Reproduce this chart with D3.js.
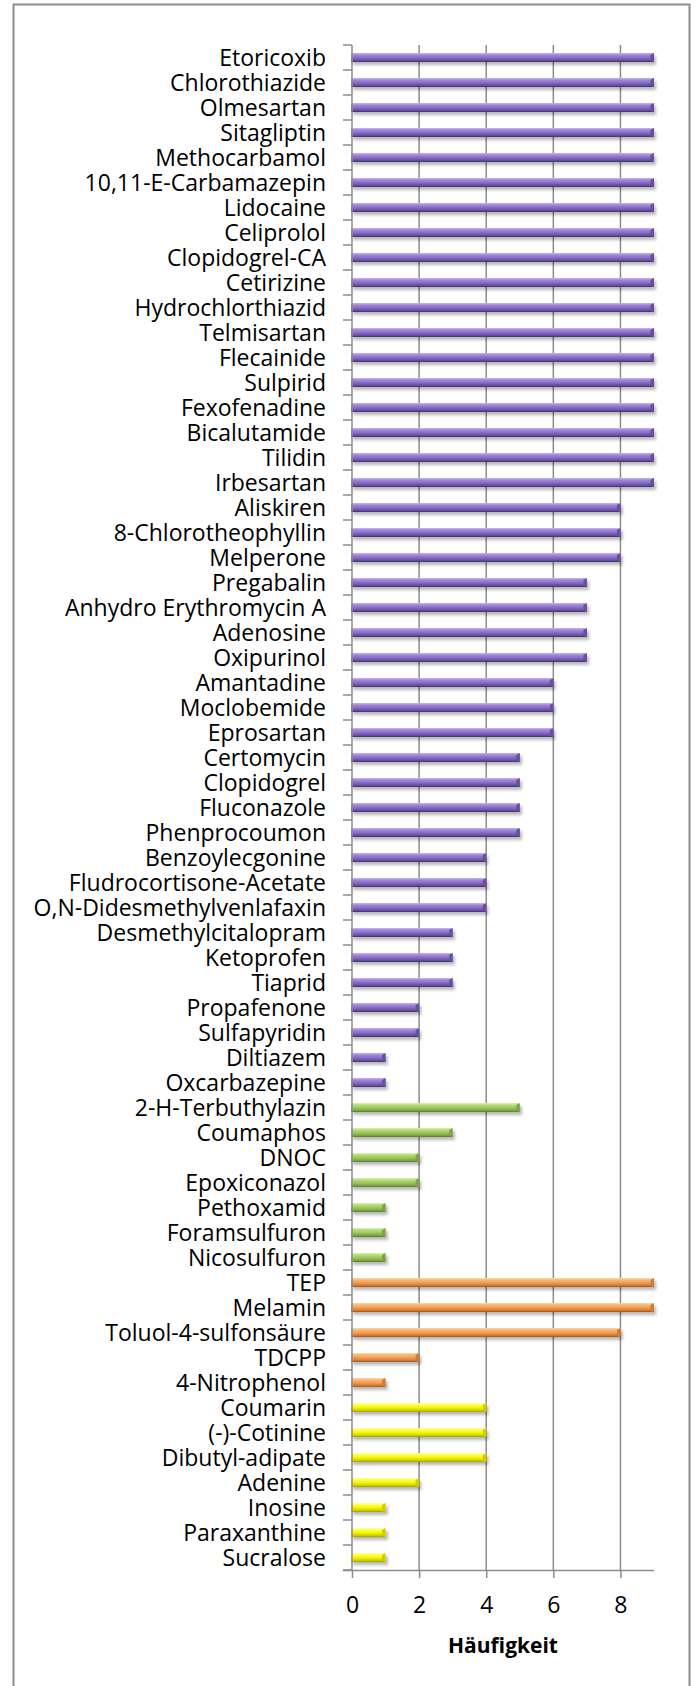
<!DOCTYPE html>
<html>
<head>
<meta charset="utf-8">
<script src="https://cdn.jsdelivr.net/npm/d3@7"></script>
<style>
  html, body { margin: 0; padding: 0; background: #fff; }
  svg { display: block; }
  text { font-family: "Open Sans", "Liberation Sans", sans-serif; fill: #000; }
</style>
</head>
<body>
<svg id="chart" width="696" height="1686"></svg>
<script>
const categories = [
  "Etoricoxib","Chlorothiazide","Olmesartan","Sitagliptin","Methocarbamol",
  "10,11-E-Carbamazepin","Lidocaine","Celiprolol","Clopidogrel-CA","Cetirizine",
  "Hydrochlorthiazid","Telmisartan","Flecainide","Sulpirid","Fexofenadine",
  "Bicalutamide","Tilidin","Irbesartan","Aliskiren","8-Chlorotheophyllin",
  "Melperone","Pregabalin","Anhydro Erythromycin A","Adenosine","Oxipurinol",
  "Amantadine","Moclobemide","Eprosartan","Certomycin","Clopidogrel",
  "Fluconazole","Phenprocoumon","Benzoylecgonine","Fludrocortisone-Acetate",
  "O,N-Didesmethylvenlafaxin","Desmethylcitalopram","Ketoprofen","Tiaprid",
  "Propafenone","Sulfapyridin","Diltiazem","Oxcarbazepine",
  "2-H-Terbuthylazin","Coumaphos","DNOC","Epoxiconazol","Pethoxamid",
  "Foramsulfuron","Nicosulfuron",
  "TEP","Melamin","Toluol-4-sulfonsäure","TDCPP","4-Nitrophenol",
  "Coumarin","(-)-Cotinine","Dibutyl-adipate","Adenine","Inosine",
  "Paraxanthine","Sucralose"
];
const values = [
  9,9,9,9,9,9,9,9,9,9,9,9,9,9,9,9,9,9,
  8,8,8,
  7,7,7,7,
  6,6,6,
  5,5,5,5,
  4,4,4,
  3,3,3,
  2,2,
  1,1,
  5,3,2,2,1,1,1,
  9,9,8,2,1,
  4,4,4,2,1,1,1
];
const groups = [
  ...Array(42).fill("pharma"),
  ...Array(7).fill("pesticide"),
  ...Array(5).fill("industrial"),
  ...Array(7).fill("other")
];
const xTicks = [0, 2, 4, 6, 8];
const xTitle = "Häufigkeit";

const groupNames = ["pharma", "pesticide", "industrial", "other"];
const groupStops = [
  ["#c9b6f0", "#a088da", "#8769c4", "#664f9c", "#3e2f63"],
  ["#dcf3ae", "#b6dc78", "#9cc55c", "#7ba644", "#587a2c"],
  ["#fcd9ad", "#f8b677", "#f29a4e", "#cf7b35", "#9a5520"],
  ["#ffffa8", "#ffff48", "#f2f200", "#cfcf00", "#9d9d00"]
];

const svg = d3.select("#chart");
const defs = svg.append("defs");

const colorOf = d3.scaleOrdinal().domain(groupNames).range(groupNames.map((g, i) => "url(#grad" + i + ")"));
const capOf = d3.scaleOrdinal().domain(groupNames).range(groupStops.map(s => s[3]));

groupStops.forEach((stops, i) => {
  const g = defs.append("linearGradient").attr("id", "grad" + i)
    .attr("x1", 0).attr("y1", 0).attr("x2", 0).attr("y2", 1);
  [0, 0.22, 0.55, 0.82, 1].forEach((o, k) => {
    g.append("stop").attr("offset", o).attr("stop-color", stops[k]);
  });
});
const f = defs.append("filter").attr("id", "shadow")
  .attr("x", "-5%").attr("y", "-50%").attr("width", "115%").attr("height", "250%");
f.append("feDropShadow").attr("dx", 2).attr("dy", 3).attr("stdDeviation", 1.8)
  .attr("flood-color", "#000").attr("flood-opacity", 0.28);

// outer frame
svg.append("rect").attr("x", 13.5).attr("y", 4.5).attr("width", 676).attr("height", 1700)
  .attr("fill", "none").attr("stroke", "#8c8c8c").attr("stroke-width", 2);

const x = d3.scaleLinear().domain([0, 9]).range([352, 654]);
const y = d3.scaleBand().domain(categories).range([45, 1570])
  .paddingInner(0.64).paddingOuter(0.32);
const step = y.step();

// gridlines
svg.append("g").selectAll("line").data(xTicks.filter(d => d > 0)).join("line")
  .attr("x1", d => x(d)).attr("x2", d => x(d))
  .attr("y1", 45).attr("y2", 1570)
  .attr("stroke", "#8c8c8c").attr("stroke-width", 1.5);

// bars
const bars = svg.append("g").selectAll("g").data(categories).join("g")
  .attr("filter", "url(#shadow)");
bars.append("rect")
  .attr("x", x(0) - 1)
  .attr("y", d => y(d))
  .attr("width", (d, i) => x(values[i]) - x(0) + 1)
  .attr("height", y.bandwidth())
  .attr("fill", (d, i) => colorOf(groups[i]));
bars.append("path")
  .attr("d", (d, i) => {
    const x1 = x(values[i]), y0 = y(d), h = y.bandwidth();
    return `M${x1 - 3.5},${y0 + 2}L${x1},${y0}L${x1},${y0 + h}L${x1 - 3.5},${y0 + h - 1}Z`;
  })
  .attr("fill", (d, i) => capOf(groups[i]));

// category axis: line and boundary ticks
const yAxisG = svg.append("g");
yAxisG.append("line").attr("x1", 352).attr("x2", 352).attr("y1", 45).attr("y2", 1570)
  .attr("stroke", "#8c8c8c").attr("stroke-width", 1.5);
yAxisG.selectAll("line.tk").data(d3.range(categories.length + 1)).join("line")
  .attr("class", "tk")
  .attr("x1", 343).attr("x2", 352)
  .attr("y1", i => 45 + i * step).attr("y2", i => 45 + i * step)
  .attr("stroke", "#8c8c8c").attr("stroke-width", 1.5);

const yAx = svg.append("g").attr("transform", "translate(352,0)")
  .call(d3.axisLeft(y).tickSize(0).tickPadding(26));
yAx.select(".domain").remove();
yAx.selectAll("text").attr("font-size", 23).attr("dy", "0.35em")
  .style("font-family", "'Open Sans', sans-serif");

// x axis
const xAx = svg.append("g").attr("transform", "translate(0,1570)")
  .call(d3.axisBottom(x).tickValues(xTicks).tickSize(8).tickPadding(19).tickSizeOuter(0));
xAx.select(".domain").attr("stroke", "#8c8c8c").attr("stroke-width", 1.5)
  .attr("d", "M343,0.5H654");
xAx.selectAll(".tick line").attr("stroke", "#8c8c8c").attr("stroke-width", 1.5);
xAx.selectAll("text").attr("font-size", 23)
  .style("font-family", "'Open Sans', sans-serif");

svg.append("text").attr("x", (x(0) + x(9)) / 2).attr("y", 1653)
  .attr("text-anchor", "middle").attr("font-size", 21).attr("font-weight", "bold")
  .text(xTitle);
</script>
</body>
</html>
